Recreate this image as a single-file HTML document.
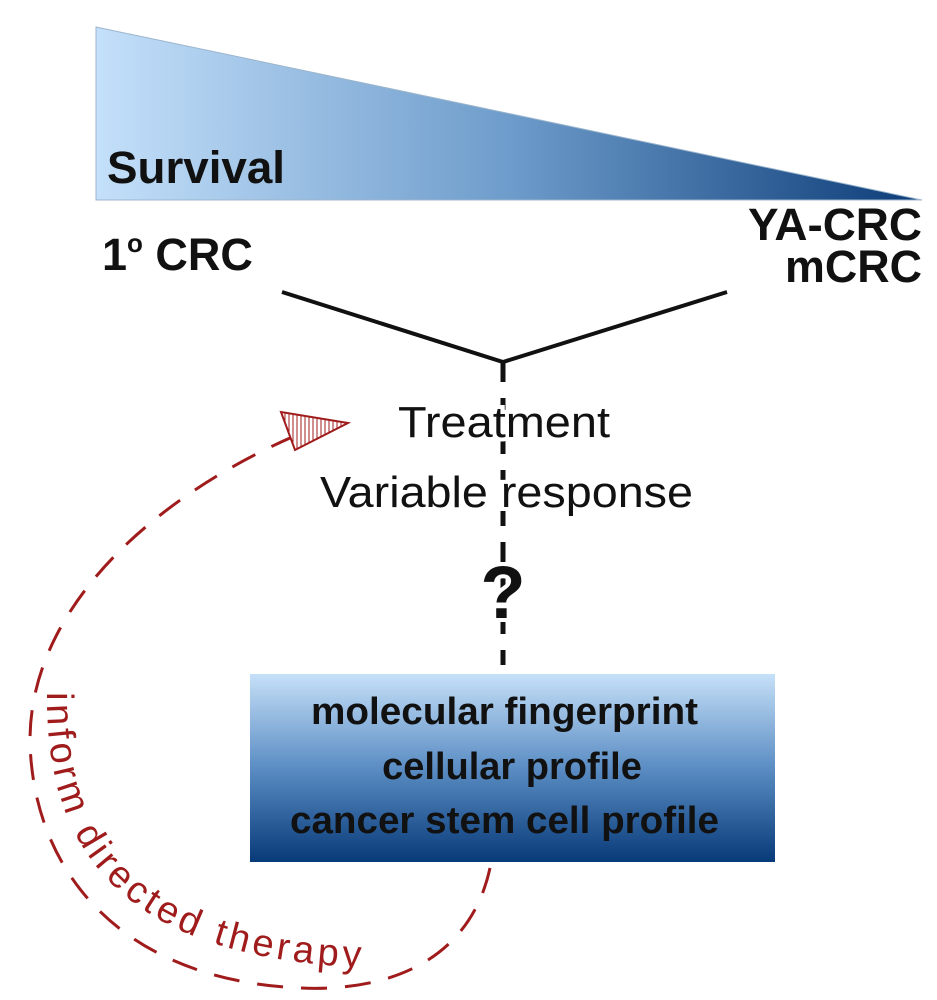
<!DOCTYPE html>
<html><head><meta charset="utf-8"><style>
html,body{margin:0;padding:0;background:#fff;width:937px;height:1000px;overflow:hidden}
svg{display:block}
text{font-family:"Liberation Sans",Arial,sans-serif}
</style></head><body>
<svg width="937" height="1000" viewBox="0 0 937 1000" xmlns="http://www.w3.org/2000/svg">
<defs>
<linearGradient id="tri" x1="0" y1="0" x2="1" y2="0">
<stop offset="0" stop-color="#c4e0fa"/>
<stop offset="0.5" stop-color="#6e9ccb"/>
<stop offset="1" stop-color="#0c3c78"/>
</linearGradient>
<linearGradient id="box" x1="0" y1="0" x2="0" y2="1">
<stop offset="0" stop-color="#c6e0f8"/>
<stop offset="0.5" stop-color="#5b8dc4"/>
<stop offset="1" stop-color="#073a78"/>
</linearGradient>
<pattern id="hatch" width="4" height="4" patternUnits="userSpaceOnUse">
<rect width="4" height="4" fill="#fff"/><line x1="1" y1="0" x2="1" y2="4" stroke="#a01c1c" stroke-width="1"/>
</pattern>
</defs>
<polygon points="96,27 96,200 922,200" fill="url(#tri)" stroke="#9bb5cc" stroke-width="1"/>
<text x="107" y="183" font-size="45" font-weight="bold" fill="#111" textLength="178" lengthAdjust="spacingAndGlyphs">Survival</text>
<text x="102" y="270" font-size="45" font-weight="bold" fill="#111">1<tspan font-size="26" dy="-18">o</tspan><tspan dy="18"> CRC</tspan></text>
<text x="748" y="240" font-size="45" font-weight="bold" fill="#111" textLength="174" lengthAdjust="spacingAndGlyphs">YA-CRC</text>
<text x="785" y="282" font-size="45" font-weight="bold" fill="#111" textLength="137" lengthAdjust="spacingAndGlyphs">mCRC</text>
<polyline points="282,292 503,362 727,292" fill="none" stroke="#111" stroke-width="4"/>
<line x1="503" y1="362" x2="503" y2="665" stroke="#111" stroke-width="5" stroke-dasharray="20,16"/>
<text x="398" y="437" font-size="44" fill="#111" textLength="212" lengthAdjust="spacingAndGlyphs" stroke="#fff" stroke-width="8" paint-order="stroke">Treatment</text>
<text x="320" y="507" font-size="44" fill="#111" textLength="373" lengthAdjust="spacingAndGlyphs" stroke="#fff" stroke-width="8" paint-order="stroke">Variable response</text>
<text x="503" y="618" font-size="74" font-weight="bold" fill="#111" text-anchor="middle" stroke="#fff" stroke-width="8" paint-order="stroke">?</text>
<rect x="250" y="674" width="525" height="188" fill="url(#box)"/>
<text x="311" y="724" font-size="38" font-weight="bold" fill="#111" textLength="387" lengthAdjust="spacingAndGlyphs">molecular fingerprint</text>
<text x="512" y="779" font-size="38" font-weight="bold" fill="#111" text-anchor="middle">cellular profile</text>
<text x="290" y="833" font-size="38" font-weight="bold" fill="#111" textLength="429" lengthAdjust="spacingAndGlyphs">cancer stem cell profile</text>
<path d="M 490 868 C 470 960, 390 992, 300 988 C 120 980, 32 870, 30 740 C 30 610, 150 500, 290 438" fill="none" stroke="#a01c1c" stroke-width="3" stroke-dasharray="26,18"/>
<polygon points="348,423 281,412 295,450" fill="url(#hatch)" stroke="#a01c1c" stroke-width="2"/>
<path id="tp" d="M 47 692 C 45 860, 130 962, 380 968" fill="none"/>
<text font-size="38" fill="#a01c1c" letter-spacing="4"><textPath href="#tp">inform directed therapy</textPath></text>
</svg>
</body></html>
